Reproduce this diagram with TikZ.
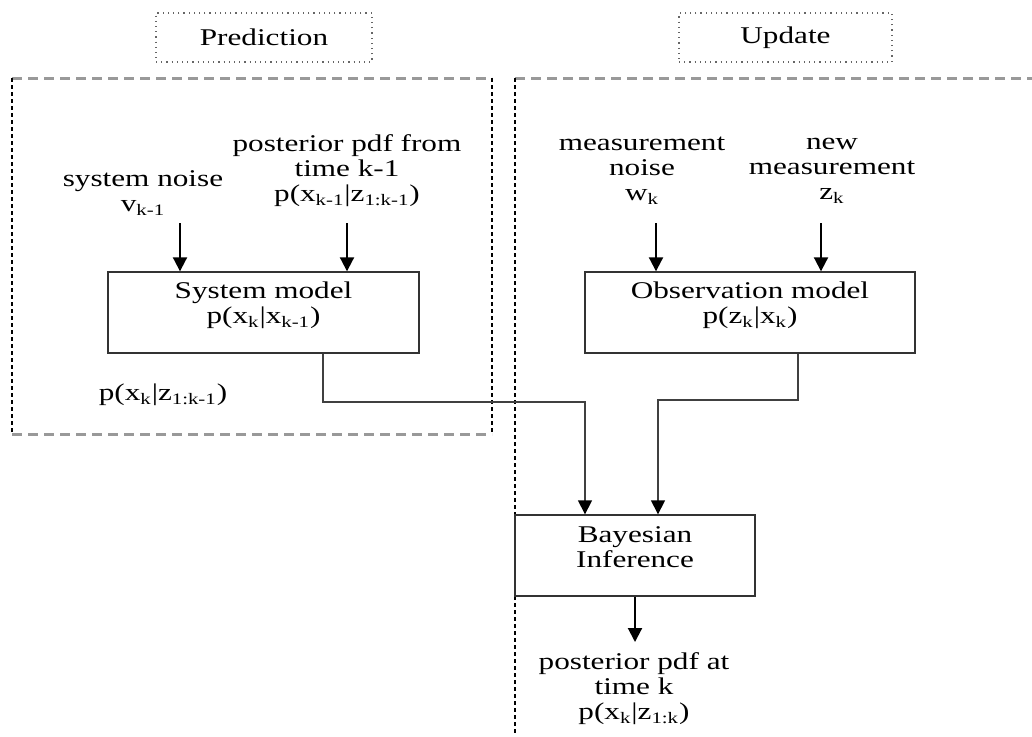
\documentclass[tikz,border=0pt]{standalone}
\usepackage{fontspec}
\setmainfont{Liberation Serif}[FakeStretch=1.3]
\usetikzlibrary{arrows.meta,calc}
\begin{document}
\begin{tikzpicture}[x=0.5pt,y=-0.5pt,
  lbl/.style={align=center,font=\fontsize{12}{12.5}\selectfont,inner sep=0pt,text=black},
  model/.style={draw=black!80,line width=0.7pt,inner sep=0pt,minimum height=40.5pt},
  phase/.style={draw=black!60,dotted,line width=0.6pt,inner sep=0pt,minimum height=24.5pt,font=\fontsize{12}{12.5}\selectfont,text=black},
  arr/.style={line width=1pt,-{Triangle[length=7pt,width=7pt]}},
  link/.style={draw=black!75,line width=0.75pt,-{Triangle[length=7pt,width=7pt,color=black]}},
  gdash/.style={draw=black!40,line width=1.5pt,dash pattern=on 5pt off 3pt},
  bdash/.style={draw=black,line width=0.7pt,dash pattern=on 2pt off 1.5pt}]
\useasboundingbox (0,0) rectangle (1032,736);

% phase titles
\node[phase, minimum width=108pt] (pred) at (264,37.5) {Prediction};
\node[phase, minimum width=106.5pt] (upd) at (785.5,37.5) {Update};

% dashed frames
\draw[gdash] (12,78) -- (492,78);
\draw[gdash] (12,434) -- (492,434);
\draw[bdash] (12,78) -- (12,434);
\draw[bdash] (492,78) -- (492,434);
\draw[gdash] (515,78) -- (1032,78);
\draw[bdash] (515,78) -- (515,736);

% input labels
\node[lbl] (sn) at (143,193) {system noise\\v\textsubscript{k-1}};
\node[lbl] (pp) at (347,171) {posterior pdf from\\time k-1\\p(x\textsubscript{k-1}|z\textsubscript{1:k-1})};
\node[lbl] (mn) at (642,171) {measurement\\noise\\w\textsubscript{k}};
\node[lbl] (nm) at (832,171) {new\\measurement\\z\textsubscript{k}};

% model boxes
\node[model, minimum width=155.5pt] (sys) at (263.5,312.5) {};
\node[lbl] (syst) at (263.5,305.5) {System model\\p(x\textsubscript{k}|x\textsubscript{k-1})};
\node[model, minimum width=165pt] (obs) at (750,312.5) {};
\node[lbl] (obst) at (750,305.5) {Observation model\\p(z\textsubscript{k}|x\textsubscript{k})};
\node[model, minimum width=120pt] (bayes) at (635,555.5) {};
\node[lbl] (bayt) at (635,547.5) {Bayesian\\Inference};

\node[lbl] (prior) at (163,395) {p(x\textsubscript{k}|z\textsubscript{1:k-1})};
\node[lbl] (post) at (634,689) {posterior pdf at\\time k\\p(x\textsubscript{k}|z\textsubscript{1:k})};

% input arrows
\coordinate (a1) at (180,223);
\coordinate (a2) at (347,223);
\coordinate (a3) at (656,223);
\coordinate (a4) at (821,223);
\draw[arr] (a1) -- (a1 |- sys.north);
\draw[arr] (a2) -- (a2 |- sys.north);
\draw[arr] (a3) -- (a3 |- obs.north);
\draw[arr] (a4) -- (a4 |- obs.north);

% connectors to Bayesian inference
\coordinate (sout) at (323,402);
\coordinate (bin1) at (585,402);
\draw[link] (sys.south -| sout) -- (sout) -- (bin1) -- (bayes.north -| bin1);
\coordinate (oout) at (798,400);
\coordinate (bin2) at (658,400);
\draw[link] (obs.south -| oout) -- (oout) -- (bin2) -- (bayes.north -| bin2);

% output
\coordinate (oend) at (635,642);
\draw[arr] (bayes.south) -- (oend);
\end{tikzpicture}
\end{document}
